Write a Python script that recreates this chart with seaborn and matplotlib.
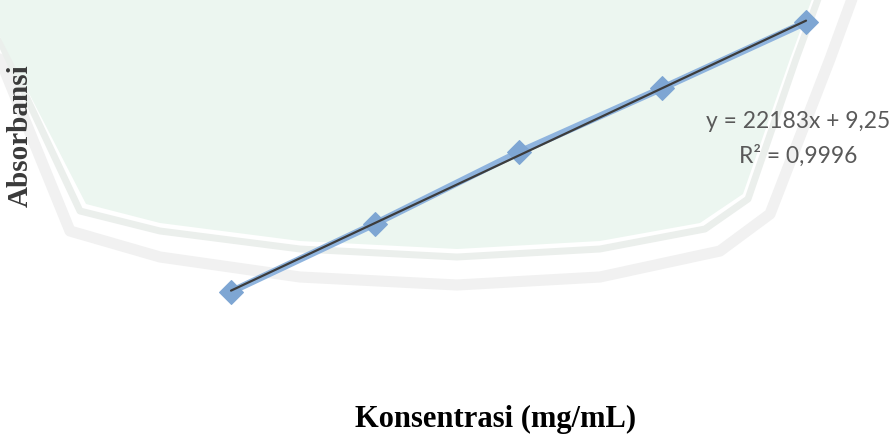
import numpy as np
import pandas as pd
import matplotlib
matplotlib.use("Agg")
import matplotlib.pyplot as plt
from matplotlib.patches import Polygon
import seaborn as sns

# Calibration data
konsentrasi = [0.002, 0.004, 0.006, 0.008, 0.010]   # mg/mL
absorbansi = [52.9, 97.5, 144.5, 186.7, 230.1]

# Linear trendline as reported
slope = 22183
intercept = 9.25
r_squared = "0,9996"

df = pd.DataFrame({"Konsentrasi": konsentrasi, "Absorbansi": absorbansi})

sns.set_theme(style="white")
fig = plt.figure(figsize=(8.96, 4.35), dpi=100)
W, H = 896, 435


def px(points):
    return [(x / W, 1 - y / H) for x, y in points]


# pale library watermark behind the chart
shield = [(0, 0), (0, 38), (86, 205), (160, 224), (300, 242), (457, 250),
          (600, 242), (700, 224), (743, 195), (790, 60), (812, 0)]
fig.patches.append(Polygon(px(shield), closed=True, transform=fig.transFigure,
                           facecolor="#ecf6f0", edgecolor="none", zorder=0))
outline = [(0, 60), (70, 232), (160, 258), (300, 278), (457, 286),
           (600, 278), (720, 252), (770, 215), (830, 60), (852, 0)]
fig.lines.append(plt.Line2D([p[0] for p in px(outline)], [p[1] for p in px(outline)],
                            transform=fig.transFigure, color="#f1f1f1", lw=8,
                            solid_capstyle="round", zorder=0))
outline2 = [(0, 42), (80, 212), (160, 232), (300, 250), (457, 258),
            (600, 250), (705, 230), (748, 200), (796, 60), (818, 0)]
fig.lines.append(plt.Line2D([p[0] for p in px(outline2)], [p[1] for p in px(outline2)],
                            transform=fig.transFigure, color="#ebefec", lw=5,
                            solid_capstyle="round", zorder=0))

ax = fig.add_axes([0.0974, 0.1421, 0.8824, 0.8568])
ax.set_zorder(5)
ax.patch.set_alpha(0)

sns.lineplot(data=df, x="Konsentrasi", y="Absorbansi", ax=ax,
             color="#8fb4de", lw=5, marker="D", markersize=12,
             markerfacecolor="#7ea6d3", markeredgecolor="#7ea6d3", zorder=3)

xfit = np.array([konsentrasi[0], konsentrasi[-1]])
ax.plot(xfit, slope * xfit + intercept, color="#3c3c3c", lw=1.6, zorder=4)

ax.set_xlim(0, 0.011)
ax.set_ylim(0, 245)
ax.set_xticks([])
ax.set_yticks([])
for s in ax.spines.values():
    s.set_visible(False)
ax.set_xlabel("")
ax.set_ylabel("")

eq = f"y = {slope}x + {str(intercept).replace('.', ',')}"
fig.text(798 / W, 1 - 122 / H, eq, ha="center", va="center",
         fontsize=16.4, family="Lato", color="#595959", zorder=6)
fig.text(798 / W, 1 - 156 / H, f"R² = {r_squared}", ha="center", va="center",
         fontsize=16.4, family="Lato", color="#595959", zorder=6)

fig.text(20 / W, 1 - 136 / H, "Absorbansi", rotation=90, ha="center", va="center",
         fontsize=21, family="Liberation Serif", fontweight="bold", color="#3a3a3a",
         zorder=6)
fig.text(496 / W, 1 - 419 / H, "Konsentrasi (mg/mL)", ha="center", va="center",
         fontsize=22, family="Liberation Serif", fontweight="bold", color="black",
         zorder=6)

fig.savefig("out.png", dpi=100)
